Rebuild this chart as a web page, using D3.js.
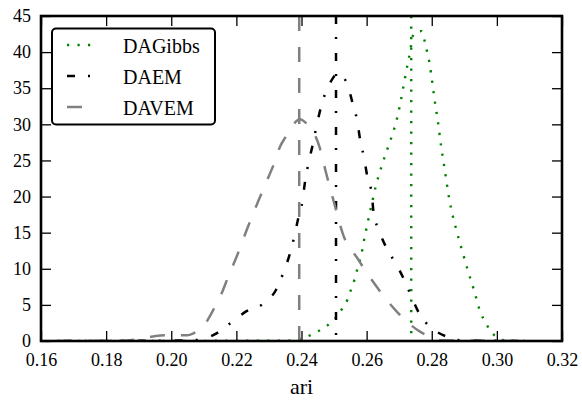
<!DOCTYPE html>
<html>
<head>
<meta charset="utf-8">
<script src="https://cdn.jsdelivr.net/npm/d3@7"></script>
<style>
  html, body { margin: 0; padding: 0; background: #fff; }
  svg { display: block; }
  text { font-family: "Times New Roman", Times, "Liberation Serif", "DejaVu Serif", serif; fill: #000; }
</style>
</head>
<body>
<svg id="chart" width="582" height="402"></svg>
<script>
// ---- data ----
const xTicks = [0.16, 0.18, 0.20, 0.22, 0.24, 0.26, 0.28, 0.30, 0.32];
const yTicks = [0, 5, 10, 15, 20, 25, 30, 35, 40, 45];
const seriesNames = ["DAGibbs", "DAEM", "DAVEM"];

const gibbsX = [0.165, 0.236, 0.2395, 0.2424, 0.2454, 0.2481, 0.2505, 0.2524, 0.2541, 0.2552, 0.2562, 0.2571, 0.2580, 0.2587, 0.2593, 0.2600, 0.2607, 0.2614, 0.2628, 0.2646, 0.2667, 0.2688, 0.2703, 0.2715, 0.2727, 0.2734, 0.2740, 0.2751, 0.2769, 0.2779, 0.2786, 0.2793, 0.2802, 0.2811, 0.2816, 0.2829, 0.2839, 0.2854, 0.2876, 0.2894, 0.2912, 0.2932, 0.2950, 0.2965, 0.2981, 0.3007, 0.3025, 0.310];
const gibbsY = [0, 0.05, 0.3, 0.73, 1.43, 2.2, 3.2, 4.4, 5.7, 7.1, 8.4, 9.9, 11.3, 12.7, 14.2, 15.7, 17.2, 18.6, 21.4, 24.2, 27.0, 29.9, 32.8, 35.7, 38.6, 40.1, 42.0, 42.8, 42.9, 41.4, 40.0, 38.5, 35.7, 32.7, 31.3, 26.9, 24.0, 19.6, 15.3, 12.4, 9.6, 6.7, 3.9, 2.6, 1.3, 0.46, 0.05, 0];

const emX = [0.167, 0.200, 0.208, 0.2129, 0.2183, 0.2230, 0.2281, 0.2322, 0.2344, 0.2363, 0.2377, 0.2390, 0.2403, 0.2411, 0.2421, 0.2433, 0.2445, 0.2457, 0.2474, 0.2498, 0.2506, 0.2520, 0.2542, 0.2557, 0.2571, 0.2580, 0.2592, 0.2602, 0.2616, 0.2621, 0.2639, 0.2662, 0.2690, 0.2716, 0.2738, 0.2764, 0.2800, 0.2846, 0.2887, 0.310];
const emY = [0, 0.05, 0.15, 0.8, 2.5, 4.1, 5.1, 7.1, 9.4, 11.9, 14.3, 17.0, 19.4, 22.1, 24.5, 26.9, 29.5, 31.9, 34.4, 36.5, 37.0, 36.8, 35.4, 32.9, 30.5, 27.9, 25.4, 22.8, 20.3, 17.9, 15.2, 12.8, 10.7, 8.4, 6.1, 3.6, 1.8, 0.6, 0.1, 0];

const vemX = [0.165, 0.185, 0.1905, 0.1966, 0.2005, 0.205, 0.2068, 0.2098, 0.2129, 0.2150, 0.2175, 0.2201, 0.2232, 0.2262, 0.2293, 0.2316, 0.2334, 0.2352, 0.2368, 0.2395, 0.2416, 0.2429, 0.2455, 0.2477, 0.2498, 0.2528, 0.2571, 0.2631, 0.2692, 0.2764, 0.2785, 0.2825, 0.310];
const vemY = [0, 0.05, 0.3, 0.75, 0.8, 0.8, 1.07, 2.0, 4.3, 6.1, 8.9, 11.7, 15.4, 18.8, 22.1, 24.6, 26.9, 28.3, 29.5, 30.7, 30.1, 29.5, 26.9, 23.0, 19.5, 14.7, 11.5, 7.5, 4.1, 1.3, 0.8, 0.1, 0];

const vlineX = [0.2737, 0.2506, 0.2393]; // DAGibbs, DAEM, DAVEM means

// ---- layout / styles ----
const L = 41, R = 562, T = 16, B = 341;
const FONT = '"Times New Roman", Times, "Liberation Serif", "DejaVu Serif", serif';
const styles = [
  { color: "#008000", dash: "2.2,8.3", width: 2.4 },
  { color: "#000000", dash: "8,13,2,14", width: 2.5 },
  { color: "#808080", dash: "15,16", width: 2.5 }
];

const svg = d3.select("#chart");
const x = d3.scaleLinear().domain([0.16, 0.32]).range([L, R]);
const y = d3.scaleLinear().domain([0, 45]).range([B, T]);

const plot = svg.append("g");
plot.append("clipPath").attr("id", "clip")
  .append("rect").attr("x", L).attr("y", T).attr("width", R - L).attr("height", B - T);

const seriesData = [
  gibbsX.map((v, i) => [v, gibbsY[i]]),
  emX.map((v, i) => [v, emY[i]]),
  vemX.map((v, i) => [v, vemY[i]])
];

const line = d3.line().x(d => x(d[0])).y(d => y(d[1])).curve(d3.curveMonotoneX);
const marks = plot.append("g").attr("clip-path", "url(#clip)");

seriesData.forEach((data, i) => {
  const s = styles[i];
  marks.append("path")
    .attr("d", line(data))
    .attr("fill", "none")
    .attr("stroke", s.color)
    .attr("stroke-width", s.width)
    .attr("stroke-dasharray", s.dash);
  marks.append("line")
    .attr("x1", x(vlineX[i])).attr("x2", x(vlineX[i]))
    .attr("y1", y(45)).attr("y2", y(0))
    .attr("stroke", s.color)
    .attr("stroke-width", s.width)
    .attr("stroke-dasharray", s.dash);
});

// ---- axes (ticks inward on all sides) ----
const tickLen = 10;
const axB = d3.axisBottom(x).tickValues(xTicks).tickFormat(d3.format(".2f")).tickSizeInner(-tickLen).tickSizeOuter(0).tickPadding(12);
const axT = d3.axisTop(x).tickValues(xTicks).tickFormat("").tickSizeInner(-tickLen).tickSizeOuter(0);
const axL = d3.axisLeft(y).tickValues(yTicks).tickFormat(d3.format("d")).tickSizeInner(-tickLen).tickSizeOuter(0).tickPadding(10);
const axR = d3.axisRight(y).tickValues(yTicks).tickFormat("").tickSizeInner(-tickLen).tickSizeOuter(0);

function styleAxis(g) {
  g.attr("font-family", null).attr("font-size", null);
  g.select(".domain").remove();
  g.selectAll(".tick line").attr("stroke", "#000").attr("stroke-width", 1.3);
  g.selectAll(".tick text").attr("font-family", FONT).style("font-family", FONT).style("font-size", "18px").attr("fill", "#000");
}
svg.append("g").attr("transform", `translate(0,${B})`).call(axB).call(styleAxis);
svg.append("g").attr("transform", `translate(0,${T})`).call(axT).call(styleAxis);
svg.append("g").attr("transform", `translate(${L},0)`).call(axL).call(styleAxis);
svg.append("g").attr("transform", `translate(${R},0)`).call(axR).call(styleAxis);

// frame
svg.append("rect").attr("x", L).attr("y", T).attr("width", R - L).attr("height", B - T)
  .attr("fill", "none").attr("stroke", "#000").attr("stroke-width", 2.6);

// x label
svg.append("text").attr("x", (L + R) / 2).attr("y", 394).attr("text-anchor", "middle")
  .style("font-family", FONT).style("font-size", "22px").text("ari");

// ---- legend ----
const lg = svg.append("g");
lg.append("rect").attr("x", 52).attr("y", 28.5).attr("width", 163).attr("height", 96)
  .attr("rx", 4).attr("ry", 4).attr("fill", "#fff").attr("stroke", "#000").attr("stroke-width", 2);
seriesNames.forEach((name, i) => {
  const cy = 45 + i * 31;
  const s = styles[i];
  lg.append("line").attr("x1", 67).attr("x2", 93).attr("y1", cy).attr("y2", cy)
    .attr("stroke", s.color).attr("stroke-width", s.width).attr("stroke-dasharray", s.dash);
  lg.append("text").attr("x", 123).attr("y", cy + 7.5)
    .style("font-family", FONT).style("font-size", "20px").text(name);
});
</script>
</body>
</html>
